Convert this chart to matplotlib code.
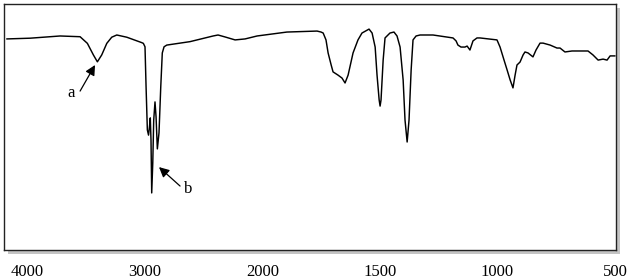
import numpy as np
import matplotlib
matplotlib.use("Agg")
import matplotlib.pyplot as plt
from matplotlib.patches import Rectangle

# wavenumber (cm-1) and transmittance (%)
wavenumber = [4173, 3974, 3719, 3549, 3487, 3436, 3402, 3365, 3322, 3280, 3237, 3152, 3025,
              3011, 2997, 2988, 2977, 2967, 2960, 2952, 2946, 2940, 2931, 2923, 2912, 2903,
              2892, 2878, 2863, 2850, 2835, 2812, 2614, 2418, 2376, 2316, 2231, 2146, 2044,
              1895, 1767, 1750, 1741, 1729, 1720, 1707, 1699, 1678, 1661, 1648, 1635, 1614,
              1593, 1576, 1546, 1533, 1520, 1512, 1503, 1499, 1495, 1486, 1478, 1457, 1440,
              1427, 1414, 1401, 1393, 1384, 1376, 1367, 1359, 1346, 1329, 1274, 1189, 1176,
              1168, 1155, 1138, 1129, 1117, 1104, 1087, 1074, 1002, 989, 972, 959, 946, 934,
              925, 917, 904, 891, 883, 870, 849, 836, 819, 806, 776, 747, 734, 713, 683, 662,
              640, 615, 594, 572, 551, 534, 521, 500]
transmittance = [85.8, 86.1, 87.0, 86.7, 84.0, 79.3, 76.5, 79.3, 84.0, 86.5, 87.4, 86.5, 84.3,
                 84.0, 82.6, 66.4, 48.8, 46.7, 49.6, 53.7, 44.7, 23.2, 35.4, 52.8, 60.2, 54.1,
                 41.1, 47.6, 66.4, 80.1, 82.6, 83.3, 84.7, 87.0, 87.4, 86.6, 85.4, 85.8, 87.0,
                 88.6, 89.0, 88.6, 88.2, 85.4, 80.1, 75.2, 72.4, 71.1, 69.9, 67.9, 71.1, 80.1,
                 85.4, 88.2, 89.8, 88.2, 82.5, 71.1, 61.0, 58.5, 61.0, 77.2, 86.2, 88.2, 88.6,
                 87.0, 82.5, 69.1, 52.8, 43.9, 52.8, 73.2, 85.4, 87.0, 87.4, 87.4, 86.2, 85.0,
                 83.3, 82.5, 82.5, 82.9, 81.3, 85.0, 86.2, 86.2, 85.4, 82.5, 77.2, 73.2, 69.1, 65.9,
                 71.1, 75.2, 76.4, 79.3, 80.5, 80.1, 78.5, 81.3, 84.1, 84.1, 83.3, 82.1, 82.1, 80.5,
                 80.9, 80.9, 80.9, 80.9, 79.3, 77.2, 77.6, 77.2, 78.9, 78.9]

tick_values = [4000, 3000, 2000, 1500, 1000, 500]
tick_labels = ["4000", "3000", "2000", "1500", "1000", "500"]

labels = ["a", "b"]
label_pos = [(3626, 63.8), (2631, 24.8)]
arrow_tail = [(3549, 64.6), (2699, 26.0)]
arrow_head = [(3422, 75.2), (2878, 33.7)]


def fwd(w):
    w = np.asarray(w, dtype=float)
    return np.where(w >= 2000, w / 2.0 + 1000.0, w)


def inv(u):
    u = np.asarray(u, dtype=float)
    return np.where(u >= 2000, (u - 1000.0) * 2.0, u)


W, H = 630, 280
fig = plt.figure(figsize=(6.3, 2.8), dpi=100)
l, r, t, b = 4, 616, 4, 250
ax = fig.add_axes([l / W, 1 - b / H, (r - l) / W, (b - t) / H])

# drop shadow
off = 4
fig.patches.append(Rectangle(((l + off) / W, 1 - (b + off) / H), (r - l) / W, (b - t) / H,
                             transform=fig.transFigure, facecolor="#c4c4c4",
                             edgecolor="none", zorder=-5))

ax.set_facecolor("white")
ax.set_xscale("function", functions=(fwd, inv))
ax.plot(wavenumber, transmittance, color="black", lw=1.05,
        solid_joinstyle="round", solid_capstyle="round")
ax.set_xlim(4196, 496)
ax.set_ylim(0, 100)

ax.set_xticks(tick_values)
ax.set_xticklabels(tick_labels, family="Liberation Serif", fontsize=12)
ax.xaxis.set_minor_locator(matplotlib.ticker.NullLocator())
ax.tick_params(axis="x", length=0, pad=10)
ax.set_yticks([])
for s in ax.spines.values():
    s.set_linewidth(1.0)
    s.set_color("#222222")

for lab, lp, tl, hd in zip(labels, label_pos, arrow_tail, arrow_head):
    ax.text(lp[0], lp[1], lab, family="Liberation Serif", fontsize=12,
            ha="center", va="center")
    ax.annotate("", xy=hd, xytext=tl,
                arrowprops=dict(arrowstyle="-|>", color="black", lw=0.9,
                                mutation_scale=15, shrinkA=0, shrinkB=0))

fig.savefig("out.png", dpi=100, facecolor="white")
